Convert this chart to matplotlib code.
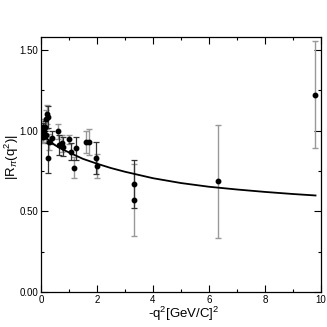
import matplotlib
matplotlib.use("Agg")
import matplotlib.pyplot as plt
from matplotlib.ticker import MultipleLocator, FormatStrFormatter

plt.rcParams['font.family'] = ['Liberation Sans', 'DejaVu Sans']
plt.rcParams['mathtext.fontset'] = 'custom'
plt.rcParams['mathtext.rm'] = 'Liberation Sans'
plt.rcParams['mathtext.it'] = 'Liberation Sans:italic'

# data set with black error bars
q2_black = [0.02, 0.05, 0.08, 0.11, 0.14, 0.24, 0.26, 0.38, 0.65, 0.80, 1.07, 1.24, 1.95, 3.32]
R_black = [1.00, 0.99, 1.01, 0.98, 1.02, 1.085, 0.83, 0.955, 0.91, 0.90, 0.87, 0.89, 0.83, 0.67]
dR_black = [0.03, 0.03, 0.04, 0.03, 0.04, 0.07, 0.09, 0.04, 0.06, 0.06, 0.05, 0.07, 0.10, 0.15]

# data set with gray error bars
q2_gray = [0.03, 0.06, 0.09, 0.12, 0.17, 0.20, 0.22, 0.29, 0.62, 0.74, 1.00, 1.18, 1.61, 1.73, 2.01, 3.32, 6.31, 9.79]
R_gray = [0.97, 1.02, 0.96, 1.00, 0.97, 1.07, 1.10, 0.93, 0.995, 0.92, 0.945, 0.77, 0.93, 0.93, 0.78, 0.57, 0.687, 1.222]
dR_gray = [0.04, 0.05, 0.04, 0.05, 0.04, 0.06, 0.06, 0.05, 0.045, 0.05, 0.03, 0.065, 0.07, 0.08, 0.075, 0.22, 0.35, 0.33]

# theory curve
q2_curve = [0, 0.1, 0.25, 0.5, 0.75, 1, 1.5, 2, 2.5, 3, 3.5, 4, 5, 6, 7, 8, 9, 9.8]
R_curve = [1.00, 0.975, 0.945, 0.91, 0.885, 0.865, 0.825, 0.795, 0.768, 0.745, 0.725, 0.705, 0.675, 0.652, 0.635, 0.62, 0.607, 0.598]

fig = plt.figure(figsize=(3.27, 3.27), dpi=100)
ax = fig.add_axes([0.125, 0.107, 0.857, 0.78])

ax.errorbar(q2_gray, R_gray, yerr=dR_gray, fmt='none', ecolor='#999999',
            elinewidth=1.0, capsize=2.5, capthick=1.0)
ax.errorbar(q2_black, R_black, yerr=dR_black, fmt='none', ecolor='#333333',
            elinewidth=0.9, capsize=2.5, capthick=0.9)
ax.plot(q2_gray, R_gray, 'o', color='black', ms=3.2, zorder=5)
ax.plot(q2_black, R_black, 'o', color='black', ms=3.2, zorder=5)
ax.plot(q2_curve, R_curve, color='black', lw=1.3, zorder=4)

ax.set_xlim(0, 10)
ax.set_ylim(0, 1.58)
ax.xaxis.set_major_locator(MultipleLocator(2))
ax.xaxis.set_minor_locator(MultipleLocator(1))
ax.yaxis.set_major_locator(MultipleLocator(0.5))
ax.yaxis.set_minor_locator(MultipleLocator(0.25))
ax.yaxis.set_major_formatter(FormatStrFormatter('%.2f'))
ax.tick_params(which='both', direction='in', top=True, right=True, labelsize=7, width=0.8, pad=2)
ax.tick_params(which='major', length=5)
ax.tick_params(which='minor', length=2.5)
for s in ax.spines.values():
    s.set_linewidth(0.9)

ax.set_xlabel(r'-q$^2$[GeV/C]$^2$', fontsize=9.5)
ax.set_ylabel(r'|R$_\pi$(q$^2$)|', fontsize=9.5)
ax.xaxis.set_label_coords(0.51, -0.05, transform=ax.transAxes)
ax.yaxis.set_label_coords(-0.072, 0.53, transform=ax.transAxes)

fig.savefig('out.png', dpi=100)
